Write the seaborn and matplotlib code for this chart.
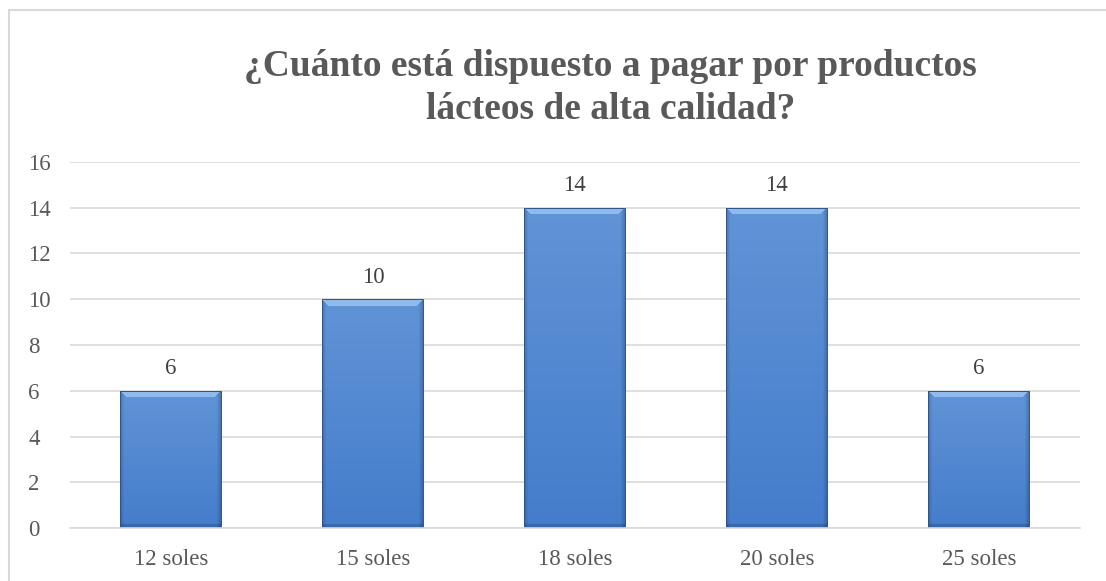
import numpy as np
import pandas as pd
import matplotlib
matplotlib.use("Agg")
import matplotlib.pyplot as plt
from matplotlib.patches import Rectangle
import seaborn as sns

categories = ["12 soles", "15 soles", "18 soles", "20 soles", "25 soles"]
values = [6, 10, 14, 14, 6]
yticks = [0, 2, 4, 6, 8, 10, 12, 14, 16]
title = "¿Cuánto está dispuesto a pagar por productos\nlácteos de alta calidad?"

sns.set_theme(style="white")
plt.rcParams["font.family"] = ["Liberation Serif", "DejaVu Serif"]

text_gray = "#595959"
grid_gray = "#D9D9D9"

fig = plt.figure(figsize=(11.06, 5.81), dpi=100)
ax = fig.add_axes([0.0633, 0.0912, 0.913, 0.630])

df = pd.DataFrame({"precio": categories, "personas": values})
sns.barplot(data=df, x="precio", y="personas", ax=ax, width=0.5,
            color="#4A7EC4", edgecolor="#2F5488", linewidth=0.7, saturation=1)

ax.set_xlim(-0.5, len(categories) - 0.5)
ax.set_ylim(0, 16)


def bevel_image(w_px, h_px):
    """Bevelled blue fill: lighter top, deeper bottom, shaded sides."""
    top = np.array([0.38, 0.58, 0.84])
    bot = np.array([0.27, 0.49, 0.80])
    t = np.linspace(0, 1, h_px)[:, None, None]
    img = top * (1 - t) + bot * t
    img = np.repeat(img, w_px, axis=1)
    cols = np.arange(w_px)[None, :]
    rows = np.arange(h_px)[:, None]
    side = np.minimum(cols, w_px - 1 - cols)
    shade = np.where(side < 4, 0.82 + 0.045 * side, 1.0)
    img = img * shade[..., None]
    bottom_edge = np.where(h_px - 1 - rows < 4, 0.84, 1.0)
    img = img * bottom_edge[..., None]
    bev = 7
    light = np.array([0.58, 0.75, 0.94])
    in_bevel = (rows < bev) & (cols >= rows) & (cols <= w_px - 1 - rows)
    img[in_bevel] = light * 0.9 + img[in_bevel] * 0.1
    return np.clip(img, 0, 1)


fig.canvas.draw()
px_per_x = ax.bbox.width / 1.0 / (len(categories))
px_per_y = ax.bbox.height / 16.0
for patch in ax.patches:
    x0, y0 = patch.get_x(), patch.get_y()
    w, h = patch.get_width(), patch.get_height()
    w_px = max(int(round(w * px_per_x)), 2)
    h_px = max(int(round(h * px_per_y)), 2)
    im = ax.imshow(bevel_image(w_px, h_px), aspect="auto",
                   extent=[x0, x0 + w, y0, y0 + h],
                   zorder=patch.get_zorder(), interpolation="bilinear")
    im.set_clip_path(patch)
    patch.set_facecolor("none")
    patch.set_zorder(patch.get_zorder() + 0.2)

for patch, v in zip(ax.patches, values):
    ax.text(patch.get_x() + patch.get_width() / 2, v + 0.5, f"{v}",
            ha="center", va="bottom", fontsize=16.5, color="#404040")

ax.set_xlim(-0.5, len(categories) - 0.5)
ax.set_ylim(0, 16)
ax.set_yticks(yticks)
ax.set_yticklabels([str(t) for t in yticks])
ax.yaxis.grid(True, color=grid_gray, linewidth=1.2)
ax.set_axisbelow(True)
ax.tick_params(axis="both", length=0, labelsize=16.5, labelcolor=text_gray)
ax.tick_params(axis="y", pad=30)
ax.tick_params(axis="x", pad=15)
ax.set_xlabel("")
ax.set_ylabel("")
for s in ["top", "right", "left"]:
    ax.spines[s].set_visible(False)
ax.spines["bottom"].set_color(grid_gray)
ax.spines["bottom"].set_linewidth(1.2)
for lbl in ax.get_yticklabels():
    lbl.set_horizontalalignment("left")

fig.text(0.552, 0.849, title, ha="center", va="center", fontsize=27,
         fontweight="bold", color=text_gray, linespacing=1.3)

# chart frame
fig.add_artist(Rectangle((9 / 1106, -0.1), 1.2, 1 - 10 / 581 + 0.1,
                         transform=fig.transFigure, fill=False,
                         edgecolor="#D9D9D9", linewidth=1.5))

fig.savefig("out.png", dpi=100)
